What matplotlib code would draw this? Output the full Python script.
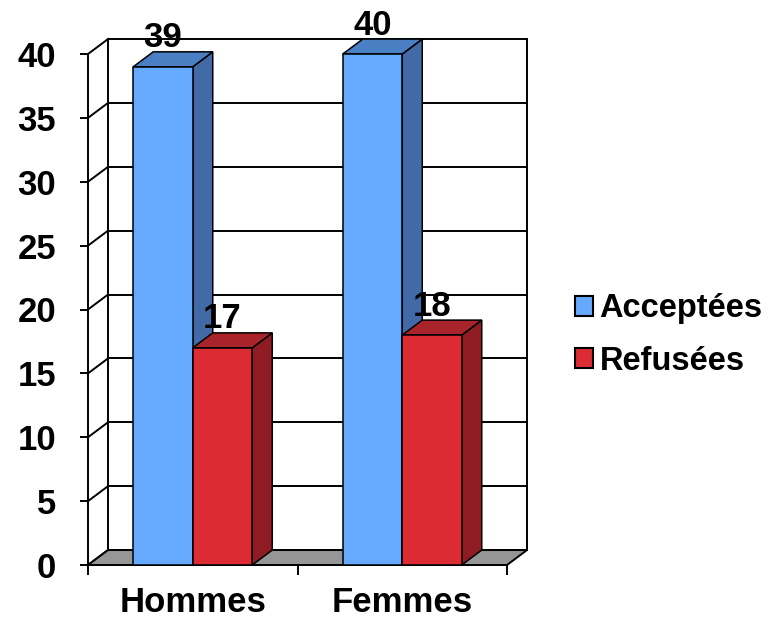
import matplotlib
matplotlib.use('Agg')
import matplotlib.pyplot as plt
from matplotlib.patches import Polygon, Patch

plt.rcParams['font.family'] = ['Liberation Sans', 'DejaVu Sans']
plt.rcParams['font.weight'] = 'bold'

# data
categories = ['Hommes', 'Femmes']
series_names = ['Acceptées', 'Refusées']
acceptees = [39, 40]
refusees = [17, 18]
yticks = [0, 5, 10, 15, 20, 25, 30, 35, 40]

# colours: front, top, side
blue = ('#66aaff', '#4a7fc4', '#416aa6')
red = ('#dc2b33', '#a8242a', '#8e1c22')
floor_col = '#969696'

bar_w = 0.284
depth_x = 0.0955   # 3d depth in category units
depth_y = 1.17     # 3d depth in value units
lw = 1.4
fs = 25

fig = plt.figure(figsize=(7.73, 6.2), dpi=100)
ax = fig.add_axes([88 / 773, 55 / 620, 419 / 773, 511 / 620])
ax.set_xlim(-0.5, 1.5)
ax.set_ylim(0, 40)

x_lo, x_hi = ax.get_xlim()
y_top = ax.get_ylim()[1]

# back wall grid + left side wall diagonals
for y in yticks:
    ax.plot([x_lo + depth_x, x_hi + depth_x], [y + depth_y, y + depth_y],
            color='black', lw=lw, zorder=1, clip_on=False)
    ax.plot([x_lo, x_lo + depth_x], [y, y + depth_y],
            color='black', lw=lw, zorder=1, clip_on=False)
for xe in (x_lo + depth_x, x_hi + depth_x):
    ax.plot([xe, xe], [depth_y, y_top + depth_y], color='black', lw=lw,
            zorder=1, clip_on=False)

# floor
floor = Polygon([(x_lo, 0), (x_hi, 0), (x_hi + depth_x, depth_y),
                 (x_lo + depth_x, depth_y)], closed=True, facecolor=floor_col,
                edgecolor='black', lw=lw, zorder=2, clip_on=False)
ax.add_patch(floor)


def bar3d(x0, h, cols, z):
    front = Polygon([(x0, 0), (x0 + bar_w, 0), (x0 + bar_w, h), (x0, h)],
                    closed=True, facecolor=cols[0], edgecolor='black',
                    lw=1.1, zorder=z, clip_on=False)
    top = Polygon([(x0, h), (x0 + bar_w, h), (x0 + bar_w + depth_x, h + depth_y),
                   (x0 + depth_x, h + depth_y)], closed=True, facecolor=cols[1],
                  edgecolor='black', lw=1.1, zorder=z, clip_on=False)
    side = Polygon([(x0 + bar_w, 0), (x0 + bar_w + depth_x, depth_y),
                    (x0 + bar_w + depth_x, h + depth_y), (x0 + bar_w, h)],
                   closed=True, facecolor=cols[2], edgecolor='black',
                   lw=1.1, zorder=z, clip_on=False)
    for p in (side, top, front):
        ax.add_patch(p)
    ax.text(x0 + bar_w / 2, h + depth_y + 0.35, str(h), ha='center',
            va='baseline', fontsize=fs, fontweight='bold', zorder=10)


z = 3
for i in range(len(categories)):
    bar3d(i - bar_w, acceptees[i], blue, z)
    bar3d(i, refusees[i], red, z + 1)
    z += 2

# axes styling
for s in ('top', 'right'):
    ax.spines[s].set_visible(False)
ax.spines['left'].set_linewidth(lw)
ax.spines['bottom'].set_linewidth(lw)
ax.spines['bottom'].set_zorder(2.5)
ax.set_yticks(yticks)
ax.set_yticklabels([str(t) for t in yticks], fontsize=fs, fontweight='bold')
ax.tick_params(axis='y', length=6, width=lw, pad=17)
ax.set_xticks([-0.5, 0.5, 1.5])
ax.set_xticklabels(['', '', ''])
ax.tick_params(axis='x', which='major', length=7, width=lw)
ax.set_xticks([0, 1], minor=True)
ax.set_xticklabels(categories, minor=True, fontsize=fs, fontweight='bold')
ax.tick_params(axis='x', which='minor', length=0, pad=15)
ax.set_facecolor('none')

handles = [Patch(facecolor=blue[0], edgecolor='black', lw=1.5),
           Patch(facecolor=red[0], edgecolor='black', lw=1.5)]
fig.legend(handles, series_names, loc='center left',
           bbox_to_anchor=(575 / 773, 1 - 335 / 620), frameon=False,
           prop={'size': 23.5, 'weight': 'bold'}, handlelength=0.55,
           handleheight=0.55, handletextpad=0.2, labelspacing=0.66,
           borderpad=0, borderaxespad=0)

fig.savefig('out.png', dpi=100)
